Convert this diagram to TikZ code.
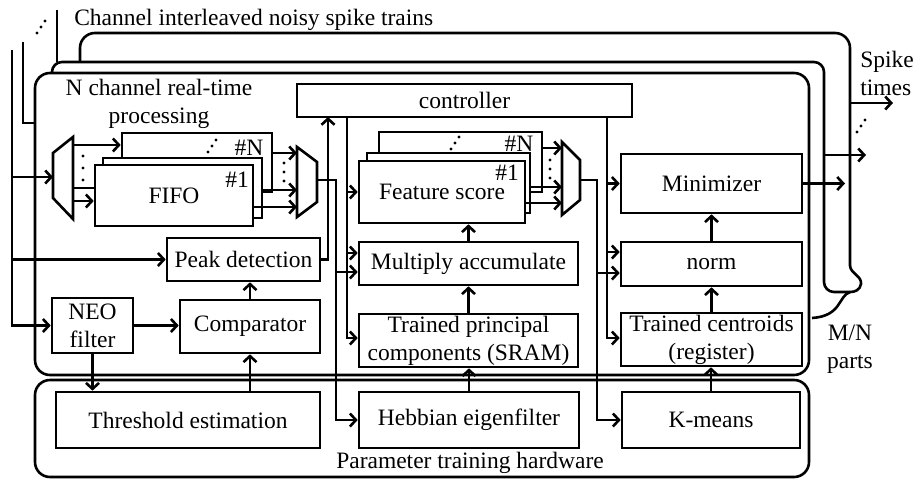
\documentclass[tikz,border=0pt]{standalone}
\usepackage{fontspec}
\setmainfont{Liberation Serif}
\usetikzlibrary{arrows.meta}

\newcommand{\updots}[1]{%
  \fill (#1) circle[radius=1.7pt] ++(4,-6) circle[radius=1.7pt] ++(4,-6) circle[radius=1.7pt];}
\newcommand{\downdots}[2]{%
  \fill (#1) circle[radius=1.7pt] ++(0,#2) circle[radius=1.7pt] ++(0,#2) circle[radius=1.7pt];}

\tikzset{
  blk/.style={draw, fill=white, inner sep=0pt, align=center},
  >={Straight Barb[length=6pt,width=13pt]}
}

\begin{document}
\begin{tikzpicture}[x=1pt, y=-1pt, line width=2.6pt, font=\fontsize{23.5pt}{28pt}\selectfont]
\useasboundingbox (0,0) rectangle (917,479);

% stacked frames, M/N parts
\draw[rounded corners=15pt] (80,62) -- (80,33) -- (850,33) -- (850,266);
\draw (850,266) .. controls (851,274) and (862,276) .. (861,284) .. controls (860,290) and (855,292) .. (850,292);
\draw[rounded corners=10pt] (52,90) -- (52,62) -- (824,62) -- (824,292) -- (850,292);
\draw (850,292) .. controls (838,296) and (842,316) .. (812,318);
\draw[fill=white, rounded corners=15pt] (35,73) rectangle (809,375);
\draw[fill=white, rounded corners=15pt] (35,380) rectangle (809,477);

% FIFO stack
\node[blk, minimum width=150pt, minimum height=59pt] (fifoN) at (197,162.5) {};
\node[blk, minimum width=159pt, minimum height=60pt] (fifoM) at (182.5,188) {};
\node[blk, minimum width=158pt, minimum height=61pt] (fifo1) at (174,195.5) {FIFO};
\node (fifoNlab) at (249,148) {\#N};
\node (fifo1lab) at (237,180) {\#1};
\updots{208,152}

% feature score stack
\node[blk, minimum width=163pt, minimum height=60pt] (featN) at (460.5,162) {};
\node[blk, minimum width=163pt, minimum height=60pt] (featM) at (448.5,183) {};
\node[blk, minimum width=166pt, minimum height=62pt] (feat1) at (442,192) {Feature score};
\node (featNlab) at (519,144) {\#N};
\node (feat1lab) at (507,173) {\#1};
\updots{451,149}

\node[blk, minimum width=335pt, minimum height=33pt] (ctrl) at (464.5,100.5) {controller};
\node[blk, minimum width=219pt, minimum height=43pt] (mac) at (468.5,263.5) {Multiply accumulate};
\node[blk, minimum width=219pt, minimum height=53pt] (pca) at (468.5,340.5) {Trained principal\\components (SRAM)};
\node[blk, minimum width=181pt, minimum height=59pt] (mini) at (711.5,183.5) {Minimizer};
\node[blk, minimum width=181pt, minimum height=44pt] (norm) at (711.5,264) {norm};
\node[blk, minimum width=181pt, minimum height=53pt] (cent) at (711.5,339.5) {Trained centroids\\(register)};
\node[blk, minimum width=178pt, minimum height=56pt] (kmeans) at (711,420) {K-means};
\node[blk, minimum width=220pt, minimum height=56pt] (hebb) at (469,420) {Hebbian eigenfilter};
\node[blk, minimum width=264pt, minimum height=56pt] (thr) at (188,420) {Threshold estimation};
\node[blk, minimum width=81pt, minimum height=55pt] (neo) at (92.5,325.5) {NEO\\filter};
\node[blk, minimum width=140pt, minimum height=53pt] (comp) at (250,326.5) {Comparator};
\node[blk, minimum width=153pt, minimum height=43pt] (peak) at (243.5,259.5) {Peak detection};

\node[anchor=west, inner sep=0pt] (title) at (73,20) {Channel interleaved noisy spike trains};
\node[align=center, inner sep=0pt] (proc) at (159,104) {N channel real-time\\processing};
\node[align=left, inner sep=0pt] (spk) at (887,73) {Spike\\times};
\node[align=center, inner sep=0pt] (mn) at (850,349) {M/N\\parts};
\node[inner sep=0pt] (ptr) at (470,463) {Parameter training hardware};

% inputs
\coordinate (in1) at (12,50);
\coordinate (in2) at (23,42);
\coordinate (in3) at (57,10);
\coordinate (fr) at (35,123);
\coordinate (dmxin) at (53,177);
\updots{37,33}
\draw[->] (in1) |- (neo.west);
\draw[->] (in1 |- peak) -- (peak.west);
\draw[->] (in1 |- dmxin) -- (dmxin);
\draw (in2) |- (fr);
\draw (in3) -- (57,62);

% demux and mux
\draw (53,153) -- (73,137) -- (73,219) -- (53,198) -- cycle;
\draw (297,147) -- (317,162) -- (317,202) -- (297,217) -- cycle;
\draw (562,142) -- (580,160) -- (580,200) -- (562,215) -- cycle;
\coordinate (d1) at (73,145);
\coordinate (d2) at (73,188);
\coordinate (d3) at (73,201);
\coordinate (m1) at (297,153);
\coordinate (m2) at (297,190);
\coordinate (m3) at (297,207);
\coordinate (mo) at (317,180);
\coordinate (f1) at (562,148);
\coordinate (f2) at (562,187);
\coordinate (f3) at (562,203);
\coordinate (fo) at (580,180);
\downdots{83,156}{12}
\downdots{284,163}{9}
\downdots{550,160}{9}
\draw[->] (d1) -- (d1 -| fifoN.west);
\draw (d2) -- (d2 -| fifo1.west);
\draw[->] (d3) -- (d3 -| fifo1.west);
\draw[->] (m1 -| fifoN.east) -- (m1);
\draw[->] (m2 -| fifoM.east) -- (m2);
\draw[->] (m3 -| fifo1.east) -- (m3);
\draw[->] (f1 -| featN.east) -- (f1);
\draw[->] (f2 -| featM.east) -- (f2);
\draw[->] (f3 -| feat1.east) -- (f3);

% data buses
\coordinate (bus) at (336,272);
\coordinate (bus2) at (597,273);
\draw[->] (mo) -| (bus) |- (hebb.west);
\draw[->] (bus) -- (bus -| mac.west);
\draw[->] (fo) -| (bus2) |- (kmeans.west);
\draw[->] (bus2) -- (bus2 -| norm.west);

% controller lines
\coordinate (pk) at (328,117);
\coordinate (cl) at (347,117);
\coordinate (clb) at (347,338);
\coordinate (cm) at (347,253);
\coordinate (cr) at (607,117);
\coordinate (crb) at (607,338);
\coordinate (cn) at (607,252);
\draw[->] (peak.east) -| (pk);
\draw[->] (cl) |- (clb -| pca.west);
\draw[->] (cl |- feat1) -- (feat1.west);
\draw[->] (cm) -- (cm -| mac.west);
\draw[->] (cr) |- (crb -| cent.west);
\draw[->] (cr |- mini) -- (mini.west);
\draw[->] (cn) -- (cn -| norm.west);

\draw[->] (mac.north) -- (mac.north |- feat1.south);
\draw[->] (pca) -- (mac);
\draw[->] (hebb.north) -- (hebb.north |- pca.south);
\draw[->] (norm) -- (mini);
\draw[->] (cent) -- (norm);
\draw[->] (kmeans.north) -- (kmeans.north |- cent.south);
\draw[->] (comp.north) -- (comp.north |- peak.south);
\draw[->] (thr.north -| comp) -- (comp.south);
\draw[->] (neo.east) -- (neo.east -| comp.west);
\draw[->] (neo.south) -- (neo.south |- thr.north);

% outputs
\coordinate (o1) at (845,183.5);
\coordinate (o2s) at (824,155);
\coordinate (o2) at (866,155);
\coordinate (o3s) at (850,103);
\coordinate (o3) at (893,103);
\draw[->] (mini.east) -- (o1);
\draw[->] (o2s) -- (o2);
\draw[->] (o3s) -- (o3);
\updots{857,132}
%\draw[red] (0,0) grid[step=50] (917,479);
\end{tikzpicture}
\end{document}
